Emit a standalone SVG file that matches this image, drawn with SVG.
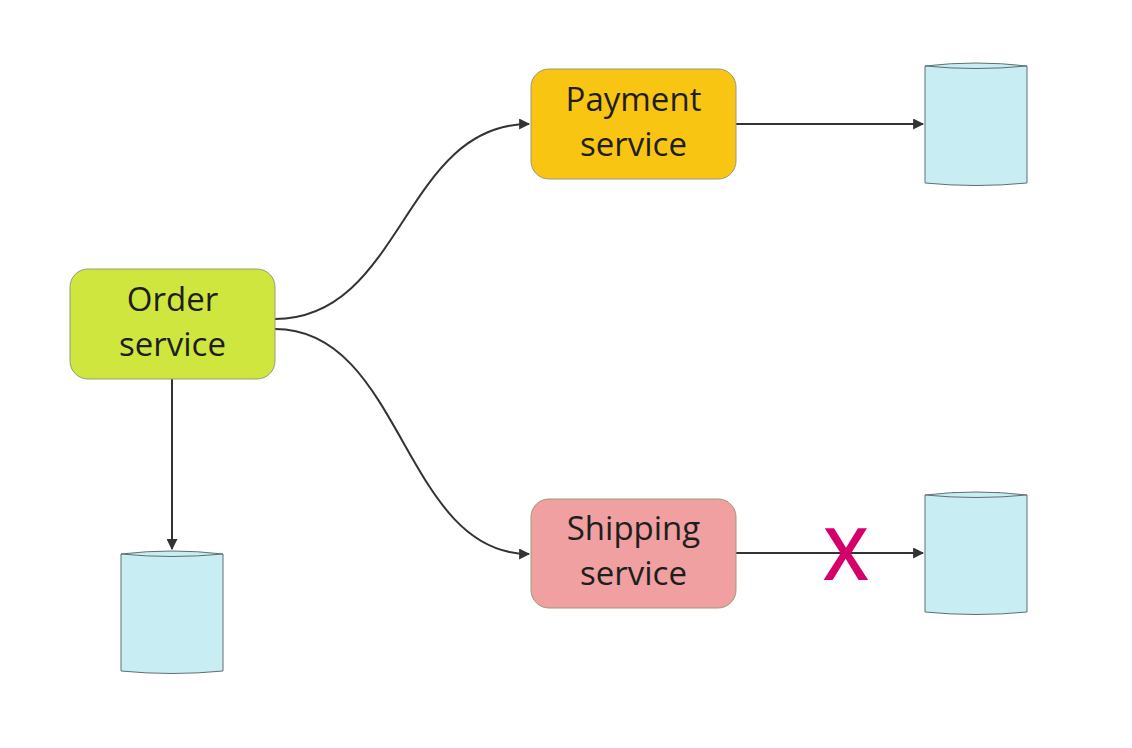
<svg xmlns="http://www.w3.org/2000/svg" width="1132" height="748" viewBox="0 0 1132 748">
  <style>
    .box { stroke: #9a9a7a; stroke-width: 1; }
    .label { font-family: "Open Sans", "Noto Sans", sans-serif; font-size: 33px; fill: #1e1e1e; text-anchor: middle; }
    .db { fill: #c8edf3; stroke: #5f6f70; stroke-width: 1; }
    .edge { fill: none; stroke: #333; stroke-width: 2; }
  </style>
  <defs>
    <marker id="arrow" viewBox="0 0 10 10" refX="9" refY="5" markerWidth="5.5" markerHeight="5.5" orient="auto">
      <path d="M0,0 L10,5 L0,10 z" fill="#333"/>
    </marker>
  </defs>
  <rect width="1132" height="748" fill="#fff"/>

  <g id="connectors">
    <path class="edge" d="M275,319 C403,319 403,124 529,124" marker-end="url(#arrow)"/>
    <path class="edge" d="M275,329 C403,329 403,554 529,554" marker-end="url(#arrow)"/>
    <path class="edge" d="M172,379 L172,549" marker-end="url(#arrow)"/>
    <path class="edge" d="M736,124 L923,124" marker-end="url(#arrow)"/>
    <path class="edge" d="M736,553 L923,553" marker-end="url(#arrow)"/>
  </g>

  <g id="order-service">
    <rect class="box" x="70" y="269" width="205" height="110" rx="18" fill="#cfe63f"/>
    <text class="label" x="172.5" y="311">Order</text>
    <text class="label" x="172.5" y="356">service</text>
  </g>

  <g id="payment-service">
    <rect class="box" x="531" y="69" width="205" height="110" rx="18" fill="#f9c513"/>
    <text class="label" x="633.5" y="111">Payment</text>
    <text class="label" x="633.5" y="156">service</text>
  </g>

  <g id="shipping-service">
    <rect class="box" x="531" y="499" width="205" height="109" rx="18" fill="#f0a0a0"/>
    <text class="label" x="633.5" y="540">Shipping</text>
    <text class="label" x="633.5" y="585">service</text>
  </g>

  <g id="payment-db">
    <path class="db" d="M925,66 L925,183 Q976,188 1027,183 L1027,66 Q976,60 925,66 z"/>
    <path class="db" d="M925,66 Q976,71 1027,66" fill="none"/>
  </g>

  <g id="shipping-db">
    <path class="db" d="M925,495 L925,612 Q976,617 1027,612 L1027,495 Q976,489 925,495 z"/>
    <path class="db" d="M925,495 Q976,500 1027,495" fill="none"/>
  </g>

  <g id="order-db">
    <path class="db" d="M121,554 L121,671 Q172,676 223,671 L223,554 Q172,548 121,554 z"/>
    <path class="db" d="M121,554 Q172,559 223,554" fill="none"/>
  </g>

  <g id="failure-mark">
    <text x="846" y="580" font-family="Open Sans, Noto Sans, sans-serif" font-size="72" font-weight="600" fill="#d6006a" text-anchor="middle">X</text>
  </g>
</svg>
